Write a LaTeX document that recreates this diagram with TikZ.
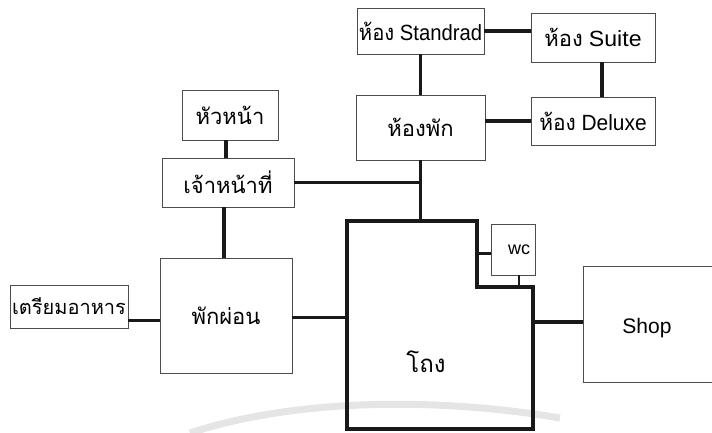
\documentclass[tikz,border=0pt]{standalone}
\usepackage{fontspec}
\setmainfont{Liberation Sans}
\newfontfamily\thai[Script=Thai]{Loma}
\begin{document}
\begin{tikzpicture}[x=1pt,y=-1pt,
  box/.style={draw=black!70, line width=0.6pt, inner sep=0pt, font=\fontsize{22}{24}\selectfont},
  conn/.style={line width=3.4pt, draw=black!90},
  wall/.style={line width=3.4pt, draw=black!90, line join=miter},
  tickline/.style={line width=2pt, draw=black!90},
  txt/.style={inner sep=0pt, font=\fontsize{22}{24}\selectfont}]
\useasboundingbox (0,0) rectangle (712,433);
% faint scan mark
\draw[line width=7pt, black!10] (190,433) .. controls (290,400) and (430,396) .. (560,418);

% boxes
\node[box, minimum width=127pt, minimum height=46pt] (std) at (420.5,31) {\scalebox{0.92}[1]{{\thai ห้อง} Standrad}};
\node[box, minimum width=124pt, minimum height=49pt] (suite) at (593,37.5) {{\thai ห้อง} \scalebox{1.05}[1]{Suite}};
\node[box, minimum width=129pt, minimum height=65pt] (room) at (420.5,127.5) {\thai ห้องพัก};
\node[box, minimum width=124pt, minimum height=48pt] (deluxe) at (593,121) {\scalebox{0.95}[1]{{\thai ห้อง} Deluxe}};
\node[box, minimum width=96pt, minimum height=50pt] (head) at (230,115) {\thai หัวหน้า};
\node[box, minimum width=132pt, minimum height=49pt] (staff) at (228,182.5) {\thai เจ้าหน้าที่};
\node[box, minimum width=132pt, minimum height=115pt] (rest) at (226,315.5) {\thai พักผ่อน};
\node[box, minimum width=118pt, minimum height=43pt, font=\fontsize{20}{22}\selectfont] (food) at (69,306.5) {\thai เตรียมอาหาร};
\node[box, minimum width=44pt, minimum height=51pt, font=\fontsize{18}{20}\selectfont] (wc) at (513,249.5) {\hspace*{12pt}wc};
\node[inner sep=0pt, minimum width=129pt, minimum height=116pt] (shop) at (647.5,324) {};
\node[txt, font=\fontsize{21}{23}\selectfont] at (647,328) {Shop};
\draw[black!70, line width=0.6pt] (shop.north east) -- (shop.north west) -- (shop.south west) -- (shop.south east);

% hall
\coordinate (h1) at (347,221);
\coordinate (h2) at (477,221);
\coordinate (h3) at (477,287);
\coordinate (h4) at (533,287);
\coordinate (h5) at (533,429);
\coordinate (h6) at (347,429);
\draw[wall] (h1) -- (h2) -- (h3) -- (h4) -- (h5) -- (h6) -- cycle;
\node[txt, font=\fontsize{24}{26}\selectfont] (hall) at (426,362) {\thai โถง};

% connectors
\draw[conn] (std.east) -- (std.east -| suite.west);
\draw[conn] (std.south) -- (std.south |- room.north);
\draw[conn] ([xshift=9pt]suite.south) -- ([xshift=9pt]suite.south |- deluxe.north);
\draw[conn] (deluxe.west) -- (deluxe.west -| room.east);
\draw[conn] ([xshift=-4pt]head.south) -- ([xshift=-4pt]head.south |- staff.north);
\draw[conn] ([xshift=-4pt]staff.south) -- ([xshift=-4pt]staff.south |- rest.north);
\coordinate (j) at (room.south |- staff.east);
\draw[conn] (room.south) -- (room.south |- h1);
\draw[conn] (staff.east) -- (j);
\draw[conn] ([yshift=-14pt]food.east) -- ([yshift=-14pt]food.east -| rest.west);
\draw[conn] ([yshift=-2pt]rest.east) -- ([yshift=-2pt]rest.east -| h1);
\draw[conn] ([yshift=-4pt]wc.west) -- ([yshift=-4pt]wc.west -| h2);
\draw[tickline] ([xshift=6pt]wc.south) -- ([xshift=6pt]wc.south |- h3);
\draw[conn] ([yshift=2pt]shop.west) -- ([yshift=2pt]shop.west -| h4);
\end{tikzpicture}
\end{document}
